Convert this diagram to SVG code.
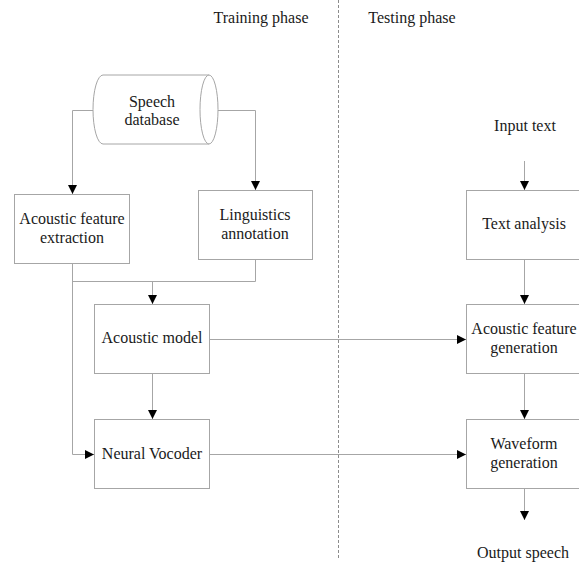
<svg xmlns="http://www.w3.org/2000/svg" width="579" height="562" viewBox="0 0 579 562">
<style>
text{font-family:"Liberation Serif","Times New Roman",serif;font-size:16px;fill:#1a1a1a;text-anchor:middle}
.box{fill:#fff;stroke:#a6a6a6;stroke-width:1}
.ln{fill:none;stroke:#a6a6a6;stroke-width:1}
.arr{fill:none;stroke:#a6a6a6;stroke-width:1;marker-end:url(#ah)}
</style>
<defs>
<marker id="ah" markerUnits="userSpaceOnUse" markerWidth="9" markerHeight="9" refX="9" refY="4.5" orient="auto" viewBox="0 0 9 9">
<path d="M0,0 L9,4.5 L0,9 z" fill="#000"/>
</marker>
</defs>
<rect width="579" height="562" fill="#fff"/>
<line x1="338.5" y1="0" x2="338.5" y2="558" stroke="#8c8c8c" stroke-width="1" stroke-dasharray="3,2"/>
<text x="261" y="23">Training phase</text>
<text x="412" y="23">Testing phase</text>
<g id="connectors">
<path class="arr" d="M93,110.5 H72.5 V194"/>
<path class="arr" d="M218,110.5 H255.5 V190"/>
<path class="arr" d="M72.5,263 V454.5 H94"/>
<path class="ln" d="M255.5,259 V281.5 H72.5"/>
<path class="arr" d="M152.5,281.5 V304"/>
<path class="arr" d="M152.5,373 V419"/>
<path class="arr" d="M209,339.5 H466"/>
<path class="arr" d="M209,454.5 H466"/>
<path class="arr" d="M524.5,161 V190"/>
<path class="arr" d="M524.5,259 V304"/>
<path class="arr" d="M524.5,373 V419"/>
<path class="arr" d="M524.5,488 V520"/>
</g>
<g id="speech-database">
<path class="box" d="M103,75 H209 V144 H103 A10,34.5 0 0 1 103,75 z"/>
<ellipse class="box" cx="209" cy="109.5" rx="9" ry="34.5"/>
<text x="152" y="107">Speech</text>
<text x="152" y="125">database</text>
</g>
<g id="acoustic-feature-extraction">
<rect class="box" x="14.5" y="194.5" width="115" height="69"/>
<text x="72" y="224">Acoustic feature</text>
<text x="72" y="243">extraction</text>
</g>
<g id="linguistics-annotation">
<rect class="box" x="198.5" y="190.5" width="114" height="69"/>
<text x="255" y="220">Linguistics</text>
<text x="255" y="239">annotation</text>
</g>
<g id="acoustic-model">
<rect class="box" x="94.5" y="304.5" width="115" height="69"/>
<text x="152" y="343">Acoustic model</text>
</g>
<g id="neural-vocoder">
<rect class="box" x="94.5" y="419.5" width="115" height="69"/>
<text x="152" y="459">Neural Vocoder</text>
</g>
<g id="input-text">
<text x="525" y="131">Input text</text>
</g>
<g id="text-analysis">
<rect class="box" x="466.5" y="190.5" width="115" height="69"/>
<text x="524" y="229">Text analysis</text>
</g>
<g id="acoustic-feature-generation">
<rect class="box" x="466.5" y="304.5" width="115" height="69"/>
<text x="524" y="334">Acoustic feature</text>
<text x="524" y="353">generation</text>
</g>
<g id="waveform-generation">
<rect class="box" x="466.5" y="419.5" width="115" height="69"/>
<text x="524" y="449">Waveform</text>
<text x="524" y="468">generation</text>
</g>
<g id="output-speech">
<text x="523" y="558">Output speech</text>
</g>
</svg>
